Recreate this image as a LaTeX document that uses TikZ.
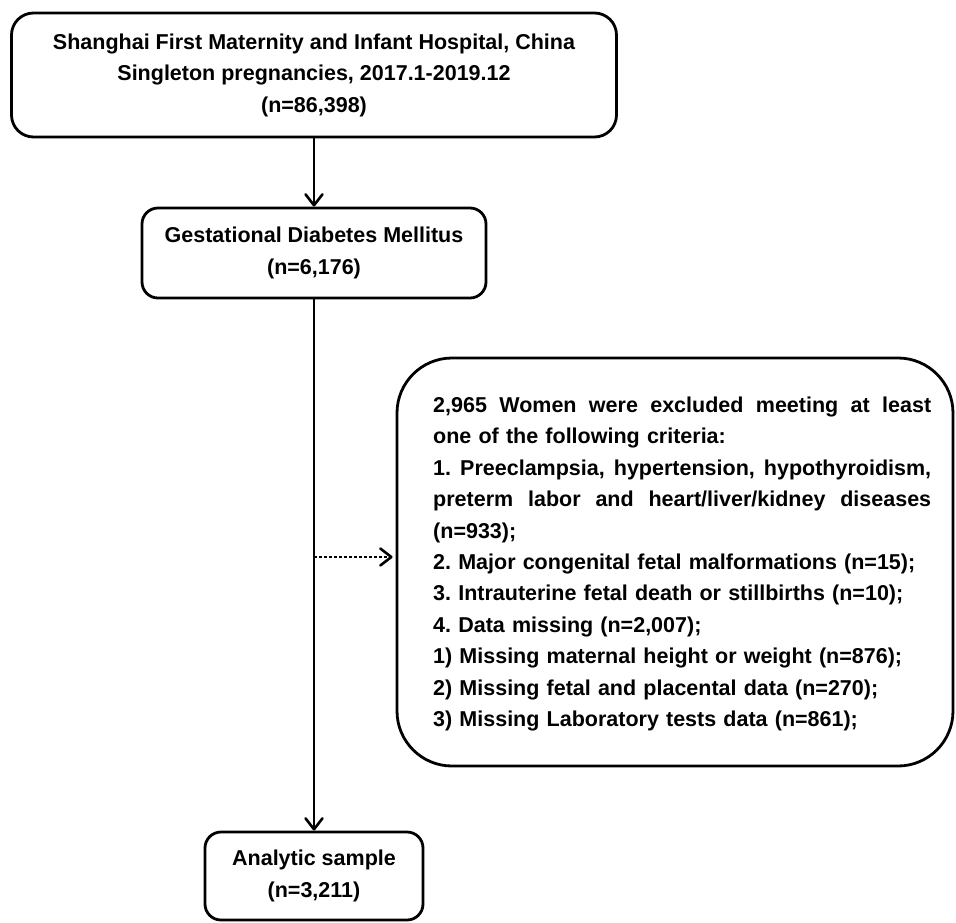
\documentclass[tikz,border=0pt]{standalone}
\usepackage{fontspec}
\setmainfont{Liberation Sans}
\usetikzlibrary{arrows.meta}
\frenchspacing
\newcommand\myjline[1]{\leavevmode\hbox to 498pt{#1}}
\begin{document}
\begin{tikzpicture}[x=1pt,y=-1pt,
  box/.style={draw,line width=2.8pt,rounded corners=#1,align=center,inner sep=0pt,
    font=\bfseries\fontsize{21.5}{31.5}\selectfont},
  box/.default=16pt,
  txt/.style={align=left,inner sep=0pt,text width=498pt,
    font=\frenchspacing\bfseries\fontsize{21.5}{31.4}\selectfont},
  arr/.style={line width=2.6pt,-{Straight Barb[length=11pt,width=17pt,line width=2.6pt,round]}},
  dotarr/.style={line width=2.6pt,dash pattern=on 2.6pt off 2.4pt,
    -{Straight Barb[length=11pt,width=17pt,line width=2.6pt,round]},shorten >=3pt}]
\useasboundingbox[fill=white] (0,0) rectangle (956,922);

\node[box=22pt,minimum width=605pt,minimum height=124pt] (top) at (314,75)
  {Shanghai First Maternity and Infant Hospital, China\\
   Singleton pregnancies, 2017.1-2019.12\\
   (n=86,398)};

\node[box,minimum width=344pt,minimum height=90pt] (gdm) at (314,253)
  {Gestational Diabetes Mellitus\\(n=6,176)};

\node[box,minimum width=218pt,minimum height=88pt] (ana) at (314,876)
  {Analytic sample\\(n=3,211)};

\node[box=55pt,minimum width=556pt,minimum height=408pt] (excl) at (675,562) {};

\node[txt,anchor=west] (excltxt) at (433,564)
  {\myjline{2,965 \hfill Women \hfill were \hfill excluded \hfill meeting \hfill at \hfill least}\\
   one of the following criteria:\\
   \myjline{1. \hfill Preeclampsia, \hfill hypertension, \hfill hypothyroidism,}\\
   \myjline{preterm \hfill labor \hfill and \hfill heart/liver/kidney \hfill diseases}\\
   (n=933);\\
   2. Major congenital fetal malformations (n=15);\\
   3. Intrauterine fetal death or stillbirths (n=10);\\
   4. Data missing (n=2,007);\\
   1) Missing maternal height or weight (n=876);\\
   2) Missing fetal and placental data (n=270);\\
   3) Missing Laboratory tests data (n=861);};

\draw[arr] (top.south) -- (gdm.north);
\draw[arr] (gdm.south) -- (ana.north);
\coordinate (branch) at (314,557);
\draw[dotarr] (branch) -- (branch -| excl.west);
\end{tikzpicture}
\end{document}
